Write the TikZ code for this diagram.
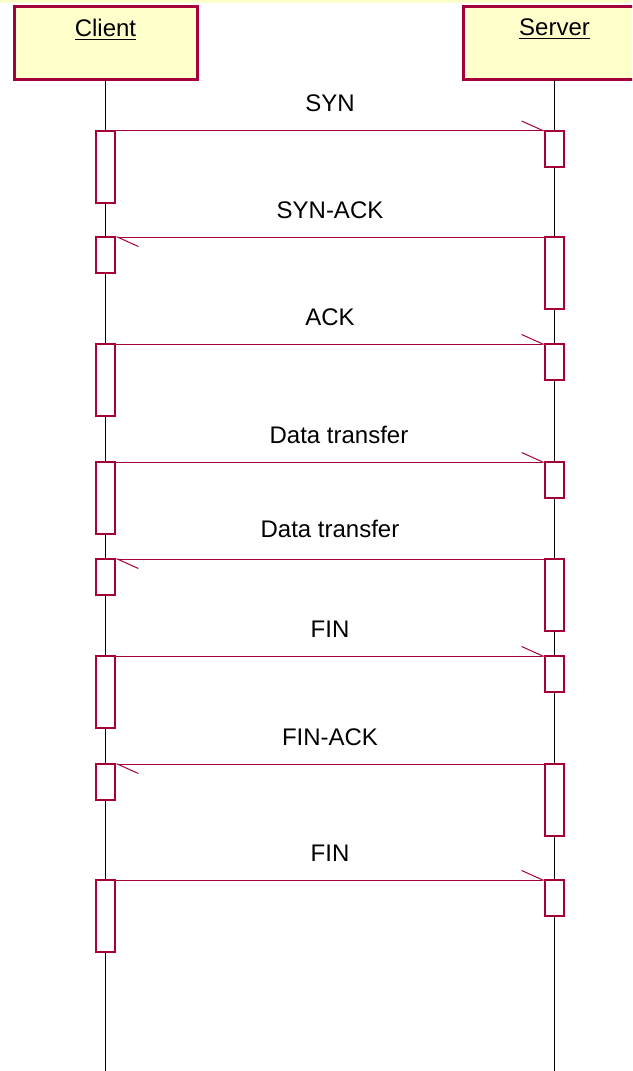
\documentclass[tikz,border=0pt]{standalone}
\usepackage{fontspec}
\setmainfont{Liberation Sans}
\usepackage{tikz}
\usetikzlibrary{positioning, arrows.meta}
\definecolor{umlred}{RGB}{165,0,60}
\definecolor{umlfill}{RGB}{255,255,204}
\newcommand\msgfont{\fontsize{12}{14}\selectfont}

\begin{document}
\begin{tikzpicture} [x=0.5pt, y=-0.5pt,
  obj/.style = {draw=umlred, fill=umlfill, line width=1.5pt, minimum width=91.5pt, minimum height=36.5pt, inner sep=0, outer sep=0},
  act/.style = {draw=umlred, fill=white, line width=1pt, minimum width=9.5pt, inner sep=0, outer sep=0, anchor=north},
  long/.style = {act, minimum height=36pt},
  short/.style = {act, minimum height=18pt},
  life/.style = {draw=black, line width=0.5pt},
  msg/.style = {draw=umlred, line width=0.5pt, -{Straight Barb[left, length=10.5pt, width=9.5pt]}},
  msglabel/.style = {midway, above=9pt, inner sep=0, font=\msgfont}]
\useasboundingbox (0,0) rectangle (632,1071);
\clip (0,0) rectangle (632,1071);
\fill[umlfill] (0,0) rectangle (632,2.5);

% objects
\node[obj] (client) at (105.5,43) {};
\node[obj] (server) at (554.5,43) {};
\node[below=6pt of client.north, inner sep=0, font=\msgfont] (cname) {\underline{Client}};
\node[below=6pt of server.north, inner sep=0, font=\msgfont] (sname) {\underline{Server}};

% lifelines
\coordinate (cend) at (105.5,1071);
\coordinate (send) at (554.5,1071);
\draw[life] (client.south) -- (cend);
\draw[life] (server.south) -- (send);

% activations
\node[long]  (c1) at (105.5,130.5) {};  \node[short] (s1) at (554.5,130.5) {};
\node[short] (c2) at (105.5,237) {};    \node[long]  (s2) at (554.5,237) {};
\node[long]  (c3) at (105.5,344) {};    \node[short] (s3) at (554.5,344) {};
\node[long]  (c4) at (105.5,462) {};    \node[short] (s4) at (554.5,462) {};
\node[short] (c5) at (105.5,559) {};    \node[long]  (s5) at (554.5,559) {};
\node[long]  (c6) at (105.5,656) {};    \node[short] (s6) at (554.5,656) {};
\node[short] (c7) at (105.5,764) {};    \node[long]  (s7) at (554.5,764) {};
\node[long]  (c8) at (105.5,880) {};    \node[short] (s8) at (554.5,880) {};

% messages
\draw[msg] (c1.north east) -- (s1.north west) node[msglabel] {SYN};
\draw[msg] (s2.north west) -- (c2.north east) node[msglabel] {SYN-ACK};
\draw[msg] (c3.north east) -- (s3.north west) node[msglabel] {ACK};
\draw[msg] (c4.north east) -- (s4.north west) node[msglabel, xshift=4.5pt] {Data transfer};
\draw[msg] (s5.north west) -- (c5.north east) node[msglabel, yshift=1.5pt] {Data transfer};
\draw[msg] (c6.north east) -- (s6.north west) node[msglabel] {FIN};
\draw[msg] (s7.north west) -- (c7.north east) node[msglabel] {FIN-ACK};
\draw[msg] (c8.north east) -- (s8.north west) node[msglabel] {FIN};
\end{tikzpicture}
\end{document}
